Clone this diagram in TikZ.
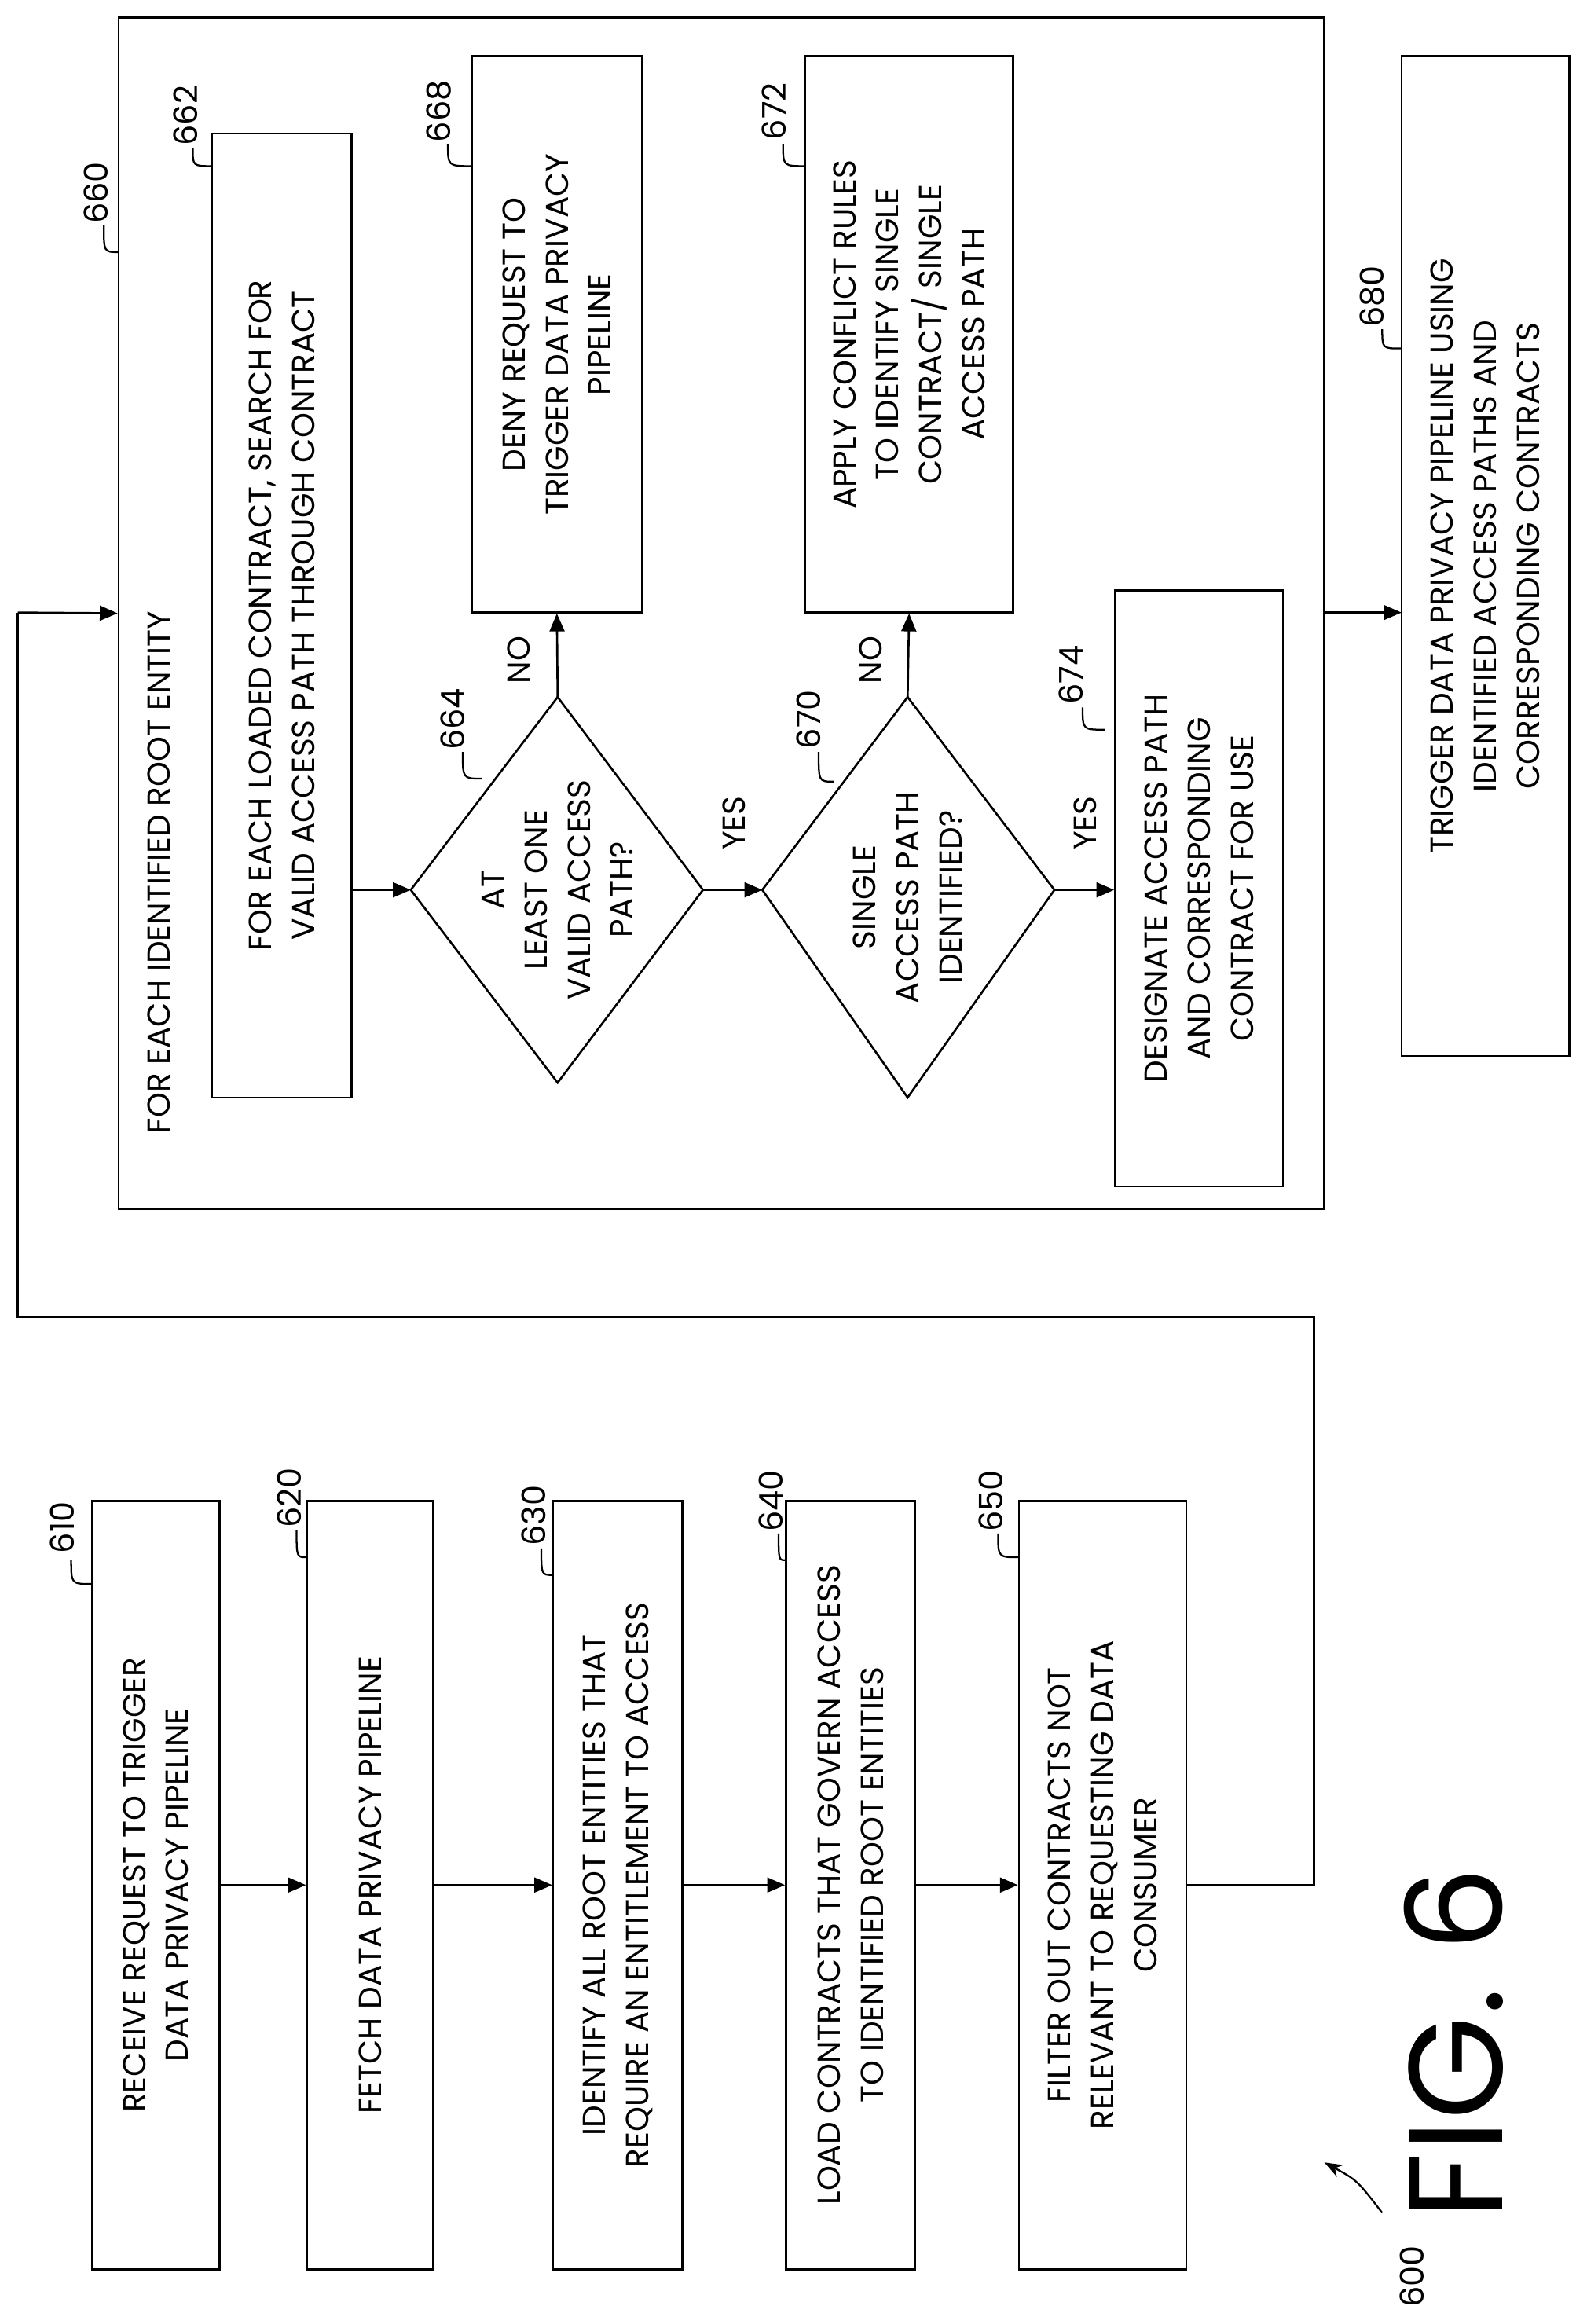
\documentclass[tikz,border=0pt]{standalone}
\usepackage{fontspec}
\setmainfont{Poppins}
\usetikzlibrary{arrows.meta}
\begin{document}
\begin{tikzpicture}[x=1pt,y=-1pt,
  every node/.style={font=\fontsize{21.5}{29}\selectfont},
  box/.style={draw,line width=1.4pt,rotate=90,align=center,inner sep=0pt},
  lbl/.style={rotate=90,font=\fontsize{22}{24}\selectfont},
  ln/.style={line width=1.4pt},
  arr/.style={line width=1.4pt,-{Triangle[length=12pt,width=10pt]}},
  cur/.style={line width=1.2pt}]
\useasboundingbox (0,0) rectangle (1070,1567);
% left column boxes
\node[box,minimum width=518,minimum height=86] (b610) at (105,1271) {RECEIVE REQUEST TO TRIGGER\\DATA PRIVACY PIPELINE};
\node[box,minimum width=518,minimum height=85] (b620) at (249.5,1271) {FETCH DATA PRIVACY PIPELINE};
\node[box,minimum width=518,minimum height=87] (b630) at (416.5,1271) {IDENTIFY ALL ROOT ENTITIES THAT\\REQUIRE AN ENTITLEMENT TO ACCESS};
\node[box,minimum width=518,minimum height=87] (b640) at (573.5,1271) {LOAD CONTRACTS THAT GOVERN ACCESS\\TO IDENTIFIED ROOT ENTITIES};
\node[box,minimum width=518,minimum height=113] (b650) at (743.5,1271) {FILTER OUT CONTRACTS NOT\\RELEVANT TO REQUESTING DATA\\CONSUMER};
\draw[arr] (b610.south) -- (b620.north);
\draw[arr] (b620.south) -- (b630.north);
\draw[arr] (b630.south) -- (b640.north);
\draw[arr] (b640.south) -- (b650.north);
% big box
\node[draw,line width=1.4pt,minimum width=813,minimum height=803,inner sep=0pt] (b660) at (486.5,413.5) {};
\coordinate (c1) at (886,1271);
\coordinate (c2) at (886,888);
\coordinate (c3) at (12,888);
\coordinate (c4) at (12,413);
\draw[ln] (b650.south) -- (c1) -- (c2) -- (c3) -- (c4);
\draw[arr] (c4) -- (b660.west);
\node[lbl,anchor=west,font=\fontsize{21.5}{29}\selectfont] (t660) at (107,768) {FOR EACH IDENTIFIED ROOT ENTITY};
\node[box,minimum width=650,minimum height=94] (b662) at (190,415) {FOR EACH LOADED CONTRACT, SEARCH FOR\\VALID ACCESS PATH THROUGH CONTRACT};
% diamond 664
\coordinate (d1t) at (376,470); \coordinate (d1b) at (376,730);
\coordinate (d1l) at (277,600); \coordinate (d1r) at (474,600);
\draw[ln] (d1t) -- (d1r) -- (d1b) -- (d1l) -- cycle;
\node[rotate=90,align=center] (t664) at (376,600) {AT\\LEAST ONE\\VALID ACCESS\\PATH?};
\draw[arr] (b662.south |- d1l) -- (d1l);
\node[box,minimum width=375,minimum height=115] (b668) at (375.5,225.5) {DENY REQUEST TO\\TRIGGER DATA PRIVACY\\PIPELINE};
\draw[arr] (d1t) -- (b668.west);
\node[rotate=90] at (350,445) {NO};
\node[rotate=90] at (495,555) {YES};
% diamond 670
\coordinate (d2t) at (612,470); \coordinate (d2b) at (612,740);
\coordinate (d2l) at (514,600); \coordinate (d2r) at (711,600);
\draw[ln] (d2t) -- (d2r) -- (d2b) -- (d2l) -- cycle;
\node[rotate=90,align=center] (t670) at (612,605) {SINGLE\\ACCESS PATH\\IDENTIFIED?};
\draw[arr] (d1r) -- (d2l);
\node[box,minimum width=375,minimum height=140] (b672) at (613,225.5) {APPLY CONFLICT RULES\\TO IDENTIFY SINGLE\\CONTRACT/ SINGLE\\ACCESS PATH};
\draw[arr] (d2t) -- (b672.west);
\node[rotate=90] at (587,445) {NO};
\node[rotate=90] at (732,555) {YES};
\node[box,minimum width=402,minimum height=113] (b674) at (808.5,599) {DESIGNATE ACCESS PATH\\AND CORRESPONDING\\CONTRACT FOR USE};
\draw[arr] (d2r) -- (d2r -| b674.north);
% 680
\node[box,minimum width=674,minimum height=113] (b680) at (1001.5,375) {TRIGGER DATA PRIVACY PIPELINE USING\\IDENTIFIED ACCESS PATHS AND\\CORRESPONDING CONTRACTS};
\draw[arr] (893,413) -- (945,413);
% labels
\foreach \t/\x/\y/\ax/\ay/\bx/\by in {610/42/1030/48/1052/62/1068, 620/195/1010/200/1032/207/1050, 630/360/1022/365/1044/373/1062, 640/520/1012/525/1034/530/1052, 650/668/1012/673/1034/687/1050, 660/65/130/70/152/80/170, 662/125/78/130/100/143/112, 664/305/485/312/507/325/525, 668/296/75/302/97/318/112, 670/545/485/552/507/562/527, 672/522/75/528/97/543/112, 674/722/455/730/477/745/492, 680/925/200/932/222/945/235}{
  \node[lbl] at (\x,\y) {\t};
  \draw[cur] (\ax,\ay) .. controls (\ax,\by) .. (\bx,\by);
}
\node[rotate=90,font=\fontsize{90}{90}\selectfont] at (980,1378) {FIG. 6};
\node[lbl] at (952,1535) {600};
\draw[line width=1.2pt,-{Stealth[length=12pt,width=9pt]}] (932,1492) .. controls (915,1470) .. (893,1458);
\end{tikzpicture}
\end{document}
